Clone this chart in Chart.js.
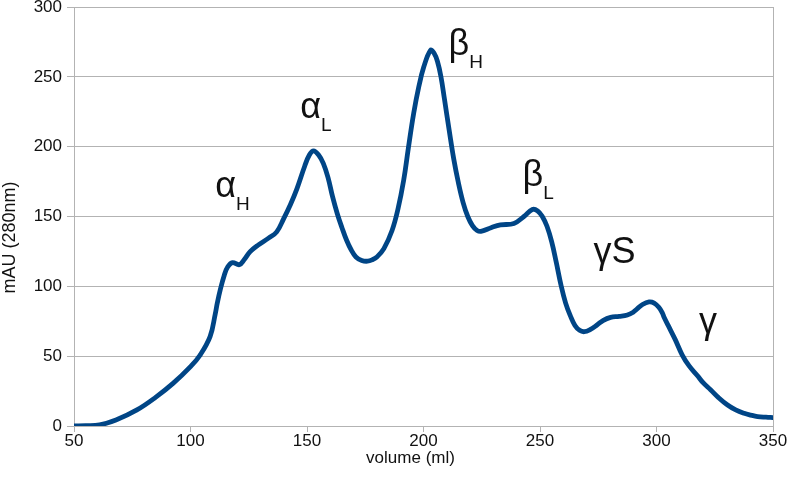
<!DOCTYPE html>
<html>
<head>
<meta charset="utf-8">
<script src="https://cdn.jsdelivr.net/npm/chart.js@4/dist/chart.umd.min.js"></script>
<style>
  html, body { margin: 0; padding: 0; background: #ffffff; }
  #wrap { width: 788px; height: 494px; }
</style>
</head>
<body>
<div id="wrap"><canvas id="c" width="788" height="494"></canvas></div>
<script>
// ---- Data ----
const volume = [
  50, 55, 61, 68, 77, 85, 92.5, 100, 104, 108.4, 110.6, 111.5, 112.7, 114.5, 116, 118,
  121, 123, 125.6, 129, 133.5, 137, 140, 143, 145.7, 149, 151, 152.8, 155, 157, 159,
  161, 163, 165, 167, 169, 171, 173.5, 176, 178, 180, 183, 186.5, 189, 191.5, 193.5,
  195.8, 198, 200.1, 203, 204.5, 206, 207.5, 209, 211, 213, 215, 217, 219, 221, 223, 225,
  229, 233, 238.8, 243.1, 246.7, 249, 251, 253, 255, 257, 259, 261, 263, 265, 267,
  269, 271.5, 274.6, 277, 280.3, 284, 287.5, 290, 291.8, 294, 296.8, 299, 301,
  302.5, 303.2, 305, 308, 311, 314, 317.6, 320, 323.3, 326.5, 330.5, 334,
  337.6, 340.5, 343.4, 347, 350
];
const absorbance = [
  0, 0.2, 0.8, 4.3, 11.5, 20.5, 30.5, 42.5, 50.5, 64, 80, 88, 97, 108, 114, 117,
  115.5, 119, 124.8, 129.5, 134.5, 139, 148.5, 159, 170, 186, 194, 197, 194, 188, 178,
  164, 152, 142, 133, 126, 121, 118.5, 118, 119, 121, 127, 140, 155, 176, 199,
  224, 243, 257, 269, 267, 261, 250, 234, 212, 191, 174, 160, 150, 143.5, 140, 139.5,
  142, 144, 145, 150, 155, 154, 150, 143, 132, 117, 101, 88, 79, 72, 68.5,
  67.5, 69, 72.5, 75.5, 77.8, 78.5, 79.5, 81.5, 84, 87, 88.8, 88, 85,
  81, 78, 72, 62, 51, 43, 36, 31, 25.8, 20.5, 15, 11.5,
  9.1, 7.8, 6.8, 6.3, 6
];
const xTicks = [50, 100, 150, 200, 250, 300, 350];
const yTicks = [0, 50, 100, 150, 200, 250, 300];

// Peak labels (anchor in data units: volume, mAU)
const peakText = ['α', 'α', 'β', 'β', 'γS', 'γ'];
const peakSub  = ['H', 'L', 'H', 'L', '', ''];
const peakVol  = [110.6, 147.1, 210.7, 242.5, 273.0, 318.2];
const peakAbs  = [163.9, 220.5, 265.6, 171.8, 116.7, 66.6];

const xTitle = 'volume (ml)';
const yTitle = 'mAU (280nm)';

// ---- Chart ----
const FONT = '"Liberation Sans", Arial, sans-serif';
const GRID = '#b3b3b3';
const TEXT = '#111111';

const points = volume.map((v, i) => ({ x: v, y: absorbance[i] }));

const labelsPlugin = {
  id: 'peakLabels',
  afterDatasetsDraw(chart) {
    const { ctx, scales: { x, y }, chartArea } = chart;
    ctx.save();
    ctx.fillStyle = TEXT;
    ctx.textAlign = 'left';
    ctx.textBaseline = 'alphabetic';
    for (let i = 0; i < peakText.length; i++) {
      const px = x.getPixelForValue(peakVol[i]);
      const py = y.getPixelForValue(peakAbs[i]);
      ctx.font = '36px ' + FONT;
      ctx.fillText(peakText[i], px, py);
      if (peakSub[i]) {
        const w = ctx.measureText(peakText[i]).width;
        ctx.font = '19px ' + FONT;
        ctx.fillText(peakSub[i], px + w, py + 13);
      }
    }
    // axis titles
    ctx.textAlign = 'center';
    ctx.textBaseline = 'middle';
    ctx.font = '17px ' + FONT;
    ctx.fillText(xTitle, (chartArea.left + chartArea.right) / 2 - 13, 458);
    ctx.font = '18px ' + FONT;
    ctx.translate(10, (chartArea.top + chartArea.bottom) / 2 + 21);
    ctx.rotate(-Math.PI / 2);
    ctx.fillText(yTitle, 0, 0);
    ctx.restore();
  }
};

new Chart(document.getElementById('c'), {
  type: 'line',
  data: {
    datasets: [{
      data: points,
      borderColor: '#004586',
      borderWidth: 4.8,
      pointRadius: 0,
      fill: false,
      tension: 0.4,
      borderCapStyle: 'round',
      borderJoinStyle: 'round'
    }]
  },
  options: {
    responsive: false,
    animation: false,
    devicePixelRatio: 1,
    layout: { padding: { top: 7, right: 15, left: 0, bottom: 0 } },
    plugins: { legend: { display: false }, tooltip: { enabled: false } },
    scales: {
      x: {
        type: 'linear',
        min: 50, max: 350,
        afterBuildTicks: (s) => { s.ticks = xTicks.map(v => ({ value: v })); },
        afterFit: (s) => { s.height = 68; s.paddingLeft = 0; s.paddingRight = 0; },
        grid: { drawOnChartArea: false, color: GRID, tickLength: 6, lineWidth: 1 },
        border: { color: GRID, width: 1 },
        ticks: { color: TEXT, font: { family: FONT, size: 17, lineHeight: 1 }, padding: 1, maxRotation: 0 }
      },
      y: {
        min: 0, max: 300,
        afterBuildTicks: (s) => { s.ticks = yTicks.map(v => ({ value: v })); },
        afterFit: (s) => { s.width = 74; s.paddingTop = 0; s.paddingBottom = 0; },
        grid: { color: GRID, tickLength: 7, lineWidth: 1 },
        border: { color: GRID, width: 1 },
        ticks: { color: TEXT, font: { family: FONT, size: 17 }, padding: 5 }
      },
      y2: {
        position: 'right',
        min: 0, max: 1,
        afterFit: (s) => { s.width = 0; s.paddingTop = 0; s.paddingBottom = 0; },
        grid: { display: false, drawTicks: false },
        border: { display: true, color: GRID, width: 1 },
        ticks: { display: false }
      }
    }
  },
  plugins: [labelsPlugin]
});
</script>
</body>
</html>
